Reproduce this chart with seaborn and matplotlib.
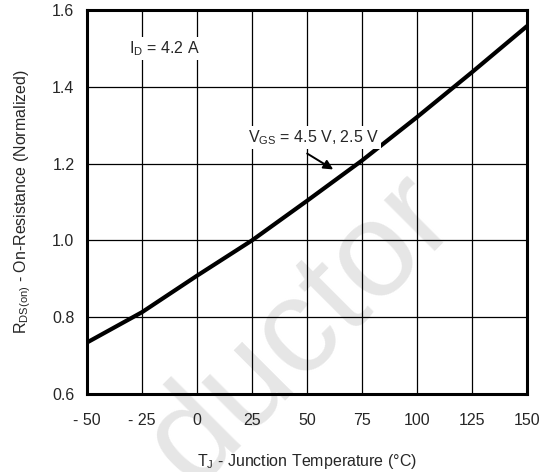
import numpy as np
import pandas as pd
import seaborn as sns
import matplotlib
matplotlib.use("Agg")
import matplotlib.pyplot as plt

temp = [-50, -25, 0, 25, 50, 75, 100, 125, 150]
rds_norm = [0.734, 0.813, 0.908, 1.000, 1.103, 1.208, 1.321, 1.438, 1.558]
xticks = [-50, -25, 0, 25, 50, 75, 100, 125, 150]
xtick_labels = ["- 50", "- 25", "0", "25", "50", "75", "100", "125", "150"]
yticks = [0.6, 0.8, 1.0, 1.2, 1.4, 1.6]

sns.set_style("white")
plt.rcParams["font.family"] = ["Liberation Sans", "DejaVu Sans"]
plt.rcParams["mathtext.fontset"] = "custom"
plt.rcParams["mathtext.rm"] = "Liberation Sans"
plt.rcParams["mathtext.it"] = "Liberation Sans"

df = pd.DataFrame({"T": temp, "R": rds_norm})

fig = plt.figure(figsize=(5.52, 4.72), dpi=100)
ax = fig.add_axes([0.1576, 0.1653, 0.7971, 0.8135])
ax.set_zorder(1)
ax.patch.set_alpha(0)

# faint watermark behind everything
fig.text(0.545, 0.30, "ductor", rotation=45, fontsize=98, color="#e6e6e6",
         ha="center", va="center", zorder=-5)

sns.lineplot(data=df, x="T", y="R", color="black", linewidth=3, ax=ax, zorder=3)

ax.set_xlim(-50, 150)
ax.set_ylim(0.6, 1.6)
ax.set_xticks(xticks)
ax.set_xticklabels(xtick_labels)
ax.set_yticks(yticks)
ax.set_yticklabels([f"{v:.1f}" for v in yticks])
ax.grid(True, color="black", linewidth=0.9)
ax.tick_params(axis="x", length=0, labelsize=11.5, pad=14)
ax.tick_params(axis="y", length=0, labelsize=11.5, pad=9)
for s in ax.spines.values():
    s.set_visible(True)
    s.set_color("black")
    s.set_linewidth(2.2)

ax.set_xlabel(r"T$_{\rm J}$ - Junction Temperature (°C)", fontsize=11.5, labelpad=17)
ax.set_ylabel(r"R$_{\rm DS(on)}$ - On-Resistance (Normalized)", fontsize=11.5, labelpad=14)

bbox = dict(facecolor="white", edgecolor="none", pad=1.5)
ax.text(-31, 1.50, r"I$_{\rm D}$ = 4.2 A", fontsize=11.5, va="center", bbox=bbox, zorder=4)
ax.text(23, 1.267, r"V$_{\rm GS}$ = 4.5 V, 2.5 V", fontsize=11.5, va="center", bbox=bbox, zorder=4)
ax.annotate("", xy=(63, 1.181), xytext=(49, 1.230),
            arrowprops=dict(arrowstyle="-|>", color="black", lw=1.4, mutation_scale=14),
            zorder=4)

fig.savefig("out.png", dpi=100)
